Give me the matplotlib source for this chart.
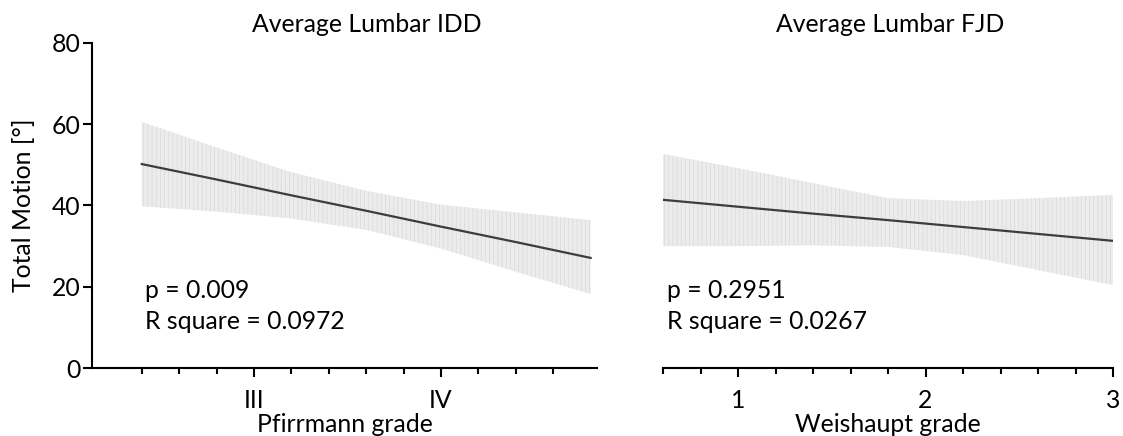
import matplotlib
matplotlib.use("Agg")
import matplotlib.pyplot as plt

# ---- data ----
idd_x = [2.4, 2.8, 3.2, 3.6, 4.0, 4.4, 4.8]
idd_fit = [50.2, 46.4, 42.5, 38.7, 34.8, 31.0, 27.1]
idd_hi = [60.6, 54.3, 48.2, 43.6, 40.2, 38.3, 36.4]
idd_lo = [39.8, 38.5, 36.8, 34.0, 29.4, 23.7, 18.2]

fjd_x = [0.6, 1.0, 1.4, 1.8, 2.2, 2.6, 3.0]
fjd_fit = [41.4, 39.7, 38.0, 36.4, 34.7, 33.0, 31.3]
fjd_hi = [52.7, 49.2, 45.5, 41.8, 41.1, 41.8, 42.6]
fjd_lo = [30.0, 30.0, 30.2, 29.8, 27.8, 24.1, 20.4]

idd_ticks = [3, 4]
idd_ticklabels = ["III", "IV"]
idd_minor = [2.4, 2.6, 2.8, 3.2, 3.4, 3.6, 3.8, 4.2, 4.4, 4.6]
fjd_ticks = [1, 2, 3]
fjd_ticklabels = ["1", "2", "3"]
fjd_minor = [0.6, 0.8, 1.2, 1.4, 1.6, 1.8, 2.2, 2.4, 2.6, 2.8]
y_ticks = [0, 20, 40, 60, 80]

titles = ["Average Lumbar IDD", "Average Lumbar FJD"]
xlabels = ["Pfirrmann grade", "Weishaupt grade"]
ylabel = "Total Motion [°]"
stats = [["p = 0.009", "R square = 0.0972"], ["p = 0.2951", "R square = 0.0267"]]

plt.rcParams['font.family'] = ['Lato', 'DejaVu Sans']
plt.rcParams['hatch.linewidth'] = 0.5
FS = 17.8

W, H = 1123, 436
fig = plt.figure(figsize=(W / 100, H / 100), dpi=100)

def px_axes(x0, x1, ytop, ybot):
    return fig.add_axes([x0 / W, 1 - ybot / H, (x1 - x0) / W, (ybot - ytop) / H])

ax1 = px_axes(92, 597, 43, 368)
ax2 = px_axes(663, 1113, 43, 368)

band_face = '#ececec'
band_hatch = '#d9d9d9'
line_col = '#3d3d3d'

for ax, x, fit, lo, hi in [(ax1, idd_x, idd_fit, idd_lo, idd_hi),
                           (ax2, fjd_x, fjd_fit, fjd_lo, fjd_hi)]:
    ax.fill_between(x, lo, hi, facecolor=band_face, edgecolor=band_hatch,
                    hatch='||||', linewidth=0, zorder=1)
    ax.plot(x, fit, color=line_col, lw=1.6, zorder=3)
    ax.set_ylim(0, 80)
    for s in ['top', 'right']:
        ax.spines[s].set_visible(False)
    ax.spines['bottom'].set_linewidth(1.5)
    ax.spines['left'].set_linewidth(1.5)
    ax.tick_params(axis='x', which='major', length=6.5, width=1.5, pad=8.5,
                   labelsize=FS, direction='out')
    ax.tick_params(axis='x', which='minor', length=4, width=1.5, direction='out')
    ax.tick_params(axis='y', which='major', length=6.5, width=1.5, pad=1.5,
                   labelsize=FS, direction='out')

ax1.set_xlim(2.134, 4.834)
ax1.set_xticks(idd_ticks)
ax1.set_xticklabels(idd_ticklabels)
ax1.set_xticks(idd_minor, minor=True)
ax1.set_yticks(y_ticks)
ax1.set_ylabel(ylabel, fontsize=FS)
ax1.yaxis.set_label_coords(-0.112, 0.5)

ax2.set_xlim(0.6, 3.0)
ax2.set_xticks(fjd_ticks)
ax2.set_xticklabels(fjd_ticklabels)
ax2.set_xticks(fjd_minor, minor=True)
ax2.spines['left'].set_visible(False)
ax2.set_yticks([])

for ax, xl, st, x0 in [(ax1, xlabels[0], stats[0], 2.42), (ax2, xlabels[1], stats[1], 0.62)]:
    ax.set_xlabel(xl, fontsize=FS)
    ax.xaxis.set_label_coords(0.5, -0.138)
    ax.text(x0, 17.2, st[0], fontsize=FS, va='baseline', ha='left')
    ax.text(x0, 9.6, st[1], fontsize=FS, va='baseline', ha='left')

fig.text(367 / W, 1 - 32 / H, titles[0], fontsize=FS, ha='center', va='baseline')
fig.text(890 / W, 1 - 32 / H, titles[1], fontsize=FS, ha='center', va='baseline')

fig.savefig("out.png", dpi=100)
